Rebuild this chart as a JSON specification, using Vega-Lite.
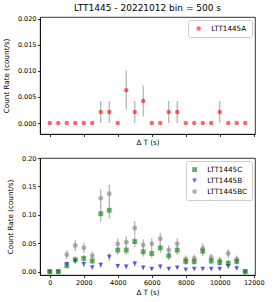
{
  "$schema": "https://vega.github.io/schema/vega-lite/v6.json",
  "padding": {"left": 1, "top": 3, "right": 4, "bottom": 4},
  "background": "white",
  "config": {
    "font": "DejaVu Sans",
    "view": {"stroke": "black", "strokeWidth": 0.8},
    "axis": {
      "grid": false,
      "labelFont": "DejaVu Sans",
      "titleFont": "DejaVu Sans",
      "labelFontSize": 6.5,
      "titleFontSize": 7.2,
      "titleFontWeight": "normal",
      "labelColor": "black",
      "titleColor": "black",
      "domainColor": "black",
      "domainWidth": 0.8,
      "tickColor": "black",
      "tickWidth": 0.8,
      "tickSize": 2.5,
      "labelPadding": 1.5,
      "labelOverlap": false,
      "labelFlush": false
    },
    "legend": {
      "labelFont": "DejaVu Sans",
      "labelFontSize": 7.2,
      "labelColor": "black",
      "strokeColor": "#cccccc",
      "fillColor": "white",
      "cornerRadius": 2,
      "padding": 5
    },
    "title": {"font": "DejaVu Sans", "fontSize": 9, "fontWeight": "normal", "color": "black"}
  },
  "datasets": {
    "top": [
      {"t": 0, "rate": 0, "lo": 0, "hi": 0},
      {"t": 500, "rate": 0, "lo": 0, "hi": 0},
      {"t": 1000, "rate": 0, "lo": 0, "hi": 0},
      {"t": 1500, "rate": 0, "lo": 0, "hi": 0},
      {"t": 2000, "rate": 0, "lo": 0, "hi": 0},
      {"t": 2500, "rate": 0, "lo": 0, "hi": 0},
      {"t": 3000, "rate": 0.0021, "lo": 0, "hi": 0.0042},
      {"t": 3500, "rate": 0.0021, "lo": 0, "hi": 0.0042},
      {"t": 4000, "rate": 0, "lo": 0, "hi": 0},
      {"t": 4500, "rate": 0.0063, "lo": 0.0026, "hi": 0.01},
      {"t": 5000, "rate": 0.0021, "lo": 0, "hi": 0.0042},
      {"t": 5500, "rate": 0.0042, "lo": 0.0012, "hi": 0.0072},
      {"t": 6000, "rate": 0, "lo": 0, "hi": 0},
      {"t": 6500, "rate": 0, "lo": 0, "hi": 0},
      {"t": 7000, "rate": 0.0021, "lo": 0, "hi": 0.0042},
      {"t": 7500, "rate": 0.0021, "lo": 0, "hi": 0.0042},
      {"t": 8000, "rate": 0, "lo": 0, "hi": 0},
      {"t": 8500, "rate": 0, "lo": 0, "hi": 0},
      {"t": 9000, "rate": 0, "lo": 0, "hi": 0},
      {"t": 9500, "rate": 0, "lo": 0, "hi": 0},
      {"t": 10000, "rate": 0.0021, "lo": 0, "hi": 0.0042},
      {"t": 10500, "rate": 0, "lo": 0, "hi": 0},
      {"t": 11000, "rate": 0, "lo": 0, "hi": 0},
      {"t": 11500, "rate": 0, "lo": 0, "hi": 0}
    ],
    "bottom": [
      {"t": 0, "rate": 0, "lo": 0, "hi": 0, "series": "LTT1445C"},
      {"t": 500, "rate": 0, "lo": 0, "hi": 0, "series": "LTT1445C"},
      {"t": 1000, "rate": 0.0106, "lo": 0.0061, "hi": 0.0151, "series": "LTT1445C"},
      {"t": 1500, "rate": 0.021, "lo": 0.0146, "hi": 0.0274, "series": "LTT1445C"},
      {"t": 2000, "rate": 0.0235, "lo": 0.0167, "hi": 0.0303, "series": "LTT1445C"},
      {"t": 2500, "rate": 0.019, "lo": 0.0129, "hi": 0.0251, "series": "LTT1445C"},
      {"t": 3000, "rate": 0.102, "lo": 0.0879, "hi": 0.1161, "series": "LTT1445C"},
      {"t": 3500, "rate": 0.108, "lo": 0.0935, "hi": 0.1225, "series": "LTT1445C"},
      {"t": 4000, "rate": 0.038, "lo": 0.0294, "hi": 0.0466, "series": "LTT1445C"},
      {"t": 4500, "rate": 0.038, "lo": 0.0294, "hi": 0.0466, "series": "LTT1445C"},
      {"t": 5000, "rate": 0.053, "lo": 0.0428, "hi": 0.0632, "series": "LTT1445C"},
      {"t": 5500, "rate": 0.035, "lo": 0.0267, "hi": 0.0433, "series": "LTT1445C"},
      {"t": 6000, "rate": 0.032, "lo": 0.0241, "hi": 0.0399, "series": "LTT1445C"},
      {"t": 6500, "rate": 0.042, "lo": 0.0329, "hi": 0.0511, "series": "LTT1445C"},
      {"t": 7000, "rate": 0.028, "lo": 0.0206, "hi": 0.0354, "series": "LTT1445C"},
      {"t": 7500, "rate": 0.038, "lo": 0.0294, "hi": 0.0466, "series": "LTT1445C"},
      {"t": 8000, "rate": 0.018, "lo": 0.0121, "hi": 0.0239, "series": "LTT1445C"},
      {"t": 8500, "rate": 0.018, "lo": 0.0121, "hi": 0.0239, "series": "LTT1445C"},
      {"t": 9000, "rate": 0.036, "lo": 0.0276, "hi": 0.0444, "series": "LTT1445C"},
      {"t": 9500, "rate": 0.019, "lo": 0.0129, "hi": 0.0251, "series": "LTT1445C"},
      {"t": 10000, "rate": 0.016, "lo": 0.0104, "hi": 0.0216, "series": "LTT1445C"},
      {"t": 10500, "rate": 0.015, "lo": 0.0096, "hi": 0.0204, "series": "LTT1445C"},
      {"t": 11000, "rate": 0.018, "lo": 0.0121, "hi": 0.0239, "series": "LTT1445C"},
      {"t": 11500, "rate": 0, "lo": 0, "hi": 0, "series": "LTT1445C"},
      {"t": 0, "rate": 0, "lo": 0, "hi": 0, "series": "LTT1445B"},
      {"t": 500, "rate": 0, "lo": 0, "hi": 0, "series": "LTT1445B"},
      {"t": 1000, "rate": 0.0135, "lo": 0.0084, "hi": 0.0186, "series": "LTT1445B"},
      {"t": 1500, "rate": 0.019, "lo": 0.0129, "hi": 0.0251, "series": "LTT1445B"},
      {"t": 2000, "rate": 0.0135, "lo": 0.0084, "hi": 0.0186, "series": "LTT1445B"},
      {"t": 2500, "rate": 0.0076, "lo": 0.0037, "hi": 0.0115, "series": "LTT1445B"},
      {"t": 3000, "rate": 0.0118, "lo": 0.007, "hi": 0.0166, "series": "LTT1445B"},
      {"t": 3500, "rate": 0.026, "lo": 0.0189, "hi": 0.0331, "series": "LTT1445B"},
      {"t": 4000, "rate": 0.01, "lo": 0.0056, "hi": 0.0144, "series": "LTT1445B"},
      {"t": 4500, "rate": 0.009, "lo": 0.0048, "hi": 0.0132, "series": "LTT1445B"},
      {"t": 5000, "rate": 0.014, "lo": 0.0088, "hi": 0.0192, "series": "LTT1445B"},
      {"t": 5500, "rate": 0.007, "lo": 0.0033, "hi": 0.0107, "series": "LTT1445B"},
      {"t": 6000, "rate": 0.005, "lo": 0.0019, "hi": 0.0081, "series": "LTT1445B"},
      {"t": 6500, "rate": 0.009, "lo": 0.0048, "hi": 0.0132, "series": "LTT1445B"},
      {"t": 7000, "rate": 0.005, "lo": 0.0019, "hi": 0.0081, "series": "LTT1445B"},
      {"t": 7500, "rate": 0.007, "lo": 0.0033, "hi": 0.0107, "series": "LTT1445B"},
      {"t": 8000, "rate": 0.0035, "lo": 0.0009, "hi": 0.0061, "series": "LTT1445B"},
      {"t": 8500, "rate": 0.005, "lo": 0.0019, "hi": 0.0081, "series": "LTT1445B"},
      {"t": 9000, "rate": 0.005, "lo": 0.0019, "hi": 0.0081, "series": "LTT1445B"},
      {"t": 9500, "rate": 0.005, "lo": 0.0019, "hi": 0.0081, "series": "LTT1445B"},
      {"t": 10000, "rate": 0.005, "lo": 0.0019, "hi": 0.0081, "series": "LTT1445B"},
      {"t": 10500, "rate": 0.01, "lo": 0.0056, "hi": 0.0144, "series": "LTT1445B"},
      {"t": 11000, "rate": 0.006, "lo": 0.0026, "hi": 0.0094, "series": "LTT1445B"},
      {"t": 11500, "rate": 0, "lo": 0, "hi": 0, "series": "LTT1445B"},
      {"t": 0, "rate": 0, "lo": 0, "hi": 0, "series": "LTT1445BC"},
      {"t": 500, "rate": 0, "lo": 0, "hi": 0, "series": "LTT1445BC"},
      {"t": 1000, "rate": 0.03, "lo": 0.0223, "hi": 0.0377, "series": "LTT1445BC"},
      {"t": 1500, "rate": 0.046, "lo": 0.0365, "hi": 0.0555, "series": "LTT1445BC"},
      {"t": 2000, "rate": 0.042, "lo": 0.0329, "hi": 0.0511, "series": "LTT1445BC"},
      {"t": 2500, "rate": 0.028, "lo": 0.0206, "hi": 0.0354, "series": "LTT1445BC"},
      {"t": 3000, "rate": 0.129, "lo": 0.1131, "hi": 0.1449, "series": "LTT1445BC"},
      {"t": 3500, "rate": 0.137, "lo": 0.1206, "hi": 0.1534, "series": "LTT1445BC"},
      {"t": 4000, "rate": 0.049, "lo": 0.0392, "hi": 0.0588, "series": "LTT1445BC"},
      {"t": 4500, "rate": 0.052, "lo": 0.0419, "hi": 0.0621, "series": "LTT1445BC"},
      {"t": 5000, "rate": 0.077, "lo": 0.0647, "hi": 0.0893, "series": "LTT1445BC"},
      {"t": 5500, "rate": 0.047, "lo": 0.0374, "hi": 0.0566, "series": "LTT1445BC"},
      {"t": 6000, "rate": 0.049, "lo": 0.0392, "hi": 0.0588, "series": "LTT1445BC"},
      {"t": 6500, "rate": 0.058, "lo": 0.0474, "hi": 0.0686, "series": "LTT1445BC"},
      {"t": 7000, "rate": 0.038, "lo": 0.0294, "hi": 0.0466, "series": "LTT1445BC"},
      {"t": 7500, "rate": 0.049, "lo": 0.0392, "hi": 0.0588, "series": "LTT1445BC"},
      {"t": 8000, "rate": 0.022, "lo": 0.0154, "hi": 0.0286, "series": "LTT1445BC"},
      {"t": 8500, "rate": 0.0235, "lo": 0.0167, "hi": 0.0303, "series": "LTT1445BC"},
      {"t": 9000, "rate": 0.041, "lo": 0.0321, "hi": 0.0499, "series": "LTT1445BC"},
      {"t": 9500, "rate": 0.025, "lo": 0.018, "hi": 0.032, "series": "LTT1445BC"},
      {"t": 10000, "rate": 0.02, "lo": 0.0137, "hi": 0.0263, "series": "LTT1445BC"},
      {"t": 10500, "rate": 0.032, "lo": 0.0241, "hi": 0.0399, "series": "LTT1445BC"},
      {"t": 11000, "rate": 0.022, "lo": 0.0154, "hi": 0.0286, "series": "LTT1445BC"},
      {"t": 11500, "rate": 0, "lo": 0, "hi": 0, "series": "LTT1445BC"}
    ]
  },
  "bounds": "flush",
  "spacing": 24,
  "resolve": {"scale": {"color": "independent", "shape": "independent"}},
  "vconcat": [
    {
      "width": 215,
      "height": 117,
      "title": {"text": "LTT1445 - 20221012 bin = 500 s", "anchor": "middle", "frame": "group", "offset": 3},
      "data": {"name": "top"},
      "encoding": {
        "x": {
          "field": "t", "type": "quantitative",
          "scale": {"domain": [-575, 12075], "nice": false, "zero": false},
          "axis": {"title": "Δ T (s)", "labels": false, "values": [0, 2000, 4000, 6000, 8000, 10000, 12000], "titlePadding": 2, "labelOverlap": false}
        }
      },
      "resolve": {"axis": {"y": "independent"}},
      "layer": [
        {
          "mark": {"type": "rule", "color": "#b0b0b0", "strokeWidth": 1.2},
          "encoding": {
            "y": {
              "field": "lo", "type": "quantitative",
              "scale": {"domain": [-0.0021, 0.0203], "nice": false, "zero": false},
              "axis": null
            },
            "y2": {"field": "hi"}
          }
        },
        {
          "mark": {"type": "point", "filled": true, "opacity": 0.6, "size": 20, "shape": "circle"},
          "encoding": {
            "y": {
              "field": "rate", "type": "quantitative",
              "scale": {"domain": [-0.0021, 0.0203], "nice": false, "zero": false},
              "axis": {"title": "Count Rate (count/s)", "format": ".3f", "values": [0, 0.005, 0.01, 0.015, 0.02], "tickCount": 5, "titlePadding": 7, "orient": "left", "labelOverlap": false, "labelBound": false}
            },
            "color": {
              "datum": "LTT1445A", "type": "nominal",
              "scale": {"domain": ["LTT1445A"], "range": ["#ff0000"]},
              "legend": {"title": null, "orient": "top-right", "offset": 3, "symbolSize": 20, "symbolOffset": 2, "labelOffset": 9}
            }
          }
        }
      ]
    },
    {
      "width": 215,
      "height": 117,
      "data": {"name": "bottom"},
      "encoding": {
        "x": {
          "field": "t", "type": "quantitative",
          "scale": {"domain": [-575, 12075], "nice": false, "zero": false},
          "axis": {"title": "Δ T (s)", "format": "d", "values": [0, 2000, 4000, 6000, 8000, 10000, 12000], "titlePadding": 3, "labelOverlap": false}
        }
      },
      "resolve": {"axis": {"y": "independent"}},
      "layer": [
        {
          "mark": {"type": "rule", "color": "#b0b0b0", "strokeWidth": 1.2},
          "encoding": {
            "y": {
              "field": "lo", "type": "quantitative",
              "scale": {"domain": [-0.0058, 0.2], "nice": false, "zero": false},
              "axis": null
            },
            "y2": {"field": "hi"}
          }
        },
        {
          "mark": {"type": "point", "filled": true, "opacity": 0.6, "size": 24},
          "encoding": {
            "y": {
              "field": "rate", "type": "quantitative",
              "scale": {"domain": [-0.0058, 0.2], "nice": false, "zero": false},
              "axis": {"title": "Count Rate (count/s)", "format": ".2f", "values": [0, 0.05, 0.1, 0.15, 0.2], "tickCount": 5, "titlePadding": 7, "orient": "left", "labelOverlap": false, "labelBound": false}
            },
            "color": {
              "field": "series", "type": "nominal",
              "scale": {"domain": ["LTT1445C", "LTT1445B", "LTT1445BC"], "range": ["#008000", "#0000ff", "#808080"]},
              "legend": {"title": null, "orient": "top-right", "offset": 3, "symbolSize": 24, "symbolOffset": 0, "labelOffset": 9, "rowPadding": 3}
            },
            "shape": {
              "field": "series", "type": "nominal",
              "scale": {"domain": ["LTT1445C", "LTT1445B", "LTT1445BC"], "range": ["square", "triangle-down", "circle"]},
              "legend": null
            },
            "order": {"field": "series"}
          }
        }
      ]
    }
  ]
}
